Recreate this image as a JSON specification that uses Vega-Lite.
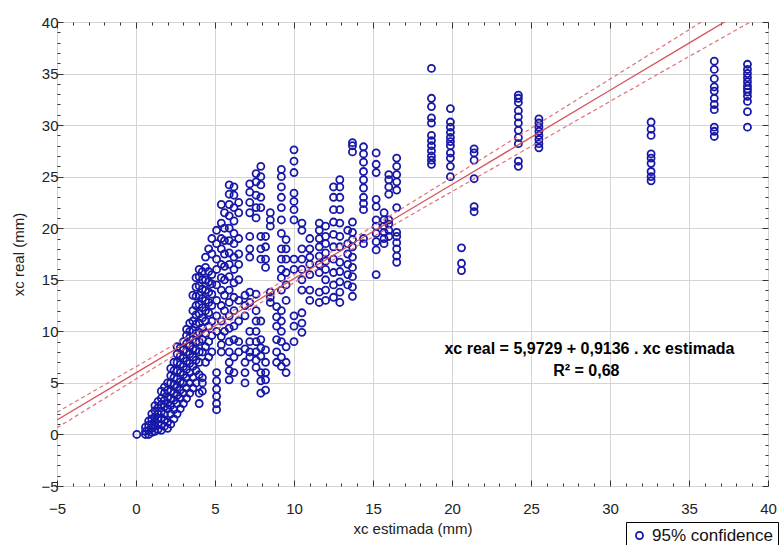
{
"$schema":"https://vega.github.io/schema/vega-lite/v6.json",
"width":711,"height":464,
"autosize":{"type":"none"},
"padding":{"left":57,"top":22,"right":15,"bottom":59},
"background":"white",
"config":{"view":{"stroke":"#000","strokeWidth":1},"font":"Liberation Sans",
"axis":{"labelFont":"Liberation Sans","labelFontSize":15,"labelColor":"#222","titleFont":"Liberation Sans","titleFontSize":15,"titleFontWeight":"normal","titleColor":"#222","domain":false,"tickColor":"#333","gridColor":"#d4d4d4"}},
"resolve":{"axis":{"x":"independent","y":"independent"}},
"datasets":{
"pts":[
{"x":0.05,"y":0},
{"x":0.6,"y":0},{"x":0.6,"y":0.3},{"x":0.6,"y":0.7},
{"x":0.8,"y":0},{"x":0.8,"y":0.4},{"x":0.8,"y":0.9},{"x":0.8,"y":1.3},
{"x":1.0,"y":0.2},{"x":1.0,"y":0.6},{"x":1.0,"y":1.0},{"x":1.0,"y":1.5},{"x":1.0,"y":2.0},
{"x":1.2,"y":0.3},{"x":1.2,"y":0.8},{"x":1.2,"y":1.2},{"x":1.2,"y":1.7},{"x":1.2,"y":2.3},{"x":1.2,"y":2.8},
{"x":1.4,"y":0.5},{"x":1.4,"y":1.0},{"x":1.4,"y":1.5},{"x":1.4,"y":2.0},{"x":1.4,"y":2.6},{"x":1.4,"y":3.2},
{"x":1.6,"y":0.4},{"x":1.6,"y":0.9},{"x":1.6,"y":1.6},{"x":1.6,"y":2.2},{"x":1.6,"y":2.9},{"x":1.6,"y":3.5},{"x":1.6,"y":4.2},
{"x":1.8,"y":0.8},{"x":1.8,"y":1.4},{"x":1.8,"y":2.0},{"x":1.8,"y":2.7},{"x":1.8,"y":3.3},{"x":1.8,"y":4.0},{"x":1.8,"y":4.6},
{"x":2.0,"y":0.6},{"x":2.0,"y":1.2},{"x":2.0,"y":2.5},{"x":2.0,"y":3.0},{"x":2.0,"y":3.6},{"x":2.0,"y":4.3},{"x":2.0,"y":5.0},
{"x":2.2,"y":1.0},{"x":2.2,"y":2.0},{"x":2.2,"y":2.8},{"x":2.2,"y":3.5},{"x":2.2,"y":4.2},{"x":2.2,"y":5.0},{"x":2.2,"y":5.7},{"x":2.2,"y":6.4},
{"x":2.4,"y":1.5},{"x":2.4,"y":2.4},{"x":2.4,"y":3.3},{"x":2.4,"y":4.0},{"x":2.4,"y":4.8},{"x":2.4,"y":5.5},{"x":2.4,"y":6.2},{"x":2.4,"y":7.0},
{"x":2.6,"y":2.0},{"x":2.6,"y":3.0},{"x":2.6,"y":3.8},{"x":2.6,"y":4.6},{"x":2.6,"y":5.4},{"x":2.6,"y":6.2},{"x":2.6,"y":7.0},{"x":2.6,"y":7.8},{"x":2.6,"y":8.5},
{"x":2.8,"y":2.5},{"x":2.8,"y":3.5},{"x":2.8,"y":4.3},{"x":2.8,"y":5.1},{"x":2.8,"y":6.0},{"x":2.8,"y":6.8},{"x":2.8,"y":7.6},{"x":2.8,"y":8.4},
{"x":3.0,"y":3.0},{"x":3.0,"y":4.0},{"x":3.0,"y":5.0},{"x":3.0,"y":5.8},{"x":3.0,"y":6.6},{"x":3.0,"y":7.4},{"x":3.0,"y":8.2},{"x":3.0,"y":9.0},
{"x":3.2,"y":3.5},{"x":3.2,"y":4.5},{"x":3.2,"y":5.5},{"x":3.2,"y":6.3},{"x":3.2,"y":7.1},{"x":3.2,"y":8.0},{"x":3.2,"y":8.8},{"x":3.2,"y":9.6},{"x":3.2,"y":10.2},
{"x":3.4,"y":4.0},{"x":3.4,"y":5.0},{"x":3.4,"y":6.0},{"x":3.4,"y":6.9},{"x":3.4,"y":7.8},{"x":3.4,"y":8.6},{"x":3.4,"y":9.4},{"x":3.4,"y":10.0},{"x":3.4,"y":10.8},
{"x":3.6,"y":4.5},{"x":3.6,"y":5.5},{"x":3.6,"y":6.6},{"x":3.6,"y":7.5},{"x":3.6,"y":8.3},{"x":3.6,"y":9.2},{"x":3.6,"y":10.1},{"x":3.6,"y":11.0},{"x":3.6,"y":12.0},{"x":3.6,"y":13.5},
{"x":3.8,"y":5.0},{"x":3.8,"y":6.2},{"x":3.8,"y":7.2},{"x":3.8,"y":8.2},{"x":3.8,"y":9.0},{"x":3.8,"y":9.8},{"x":3.8,"y":10.7},{"x":3.8,"y":11.6},{"x":3.8,"y":12.5},{"x":3.8,"y":13.4},{"x":3.8,"y":14.3},{"x":3.8,"y":15.2},
{"x":4.0,"y":3.0},{"x":4.0,"y":4.0},{"x":4.0,"y":5.8},{"x":4.0,"y":7.0},{"x":4.0,"y":8.0},{"x":4.0,"y":9.0},{"x":4.0,"y":9.9},{"x":4.0,"y":10.8},{"x":4.0,"y":11.7},{"x":4.0,"y":12.6},{"x":4.0,"y":13.5},{"x":4.0,"y":14.4},{"x":4.0,"y":15.3},{"x":4.0,"y":16.0},
{"x":4.2,"y":4.2},{"x":4.2,"y":5.0},{"x":4.2,"y":5.5},{"x":4.2,"y":8.0},{"x":4.2,"y":9.2},{"x":4.2,"y":10.3},{"x":4.2,"y":11.3},{"x":4.2,"y":12.3},{"x":4.2,"y":13.2},{"x":4.2,"y":14.1},{"x":4.2,"y":15.0},{"x":4.2,"y":15.8},
{"x":4.4,"y":7.0},{"x":4.4,"y":8.5},{"x":4.4,"y":9.8},{"x":4.4,"y":11.0},{"x":4.4,"y":12.0},{"x":4.4,"y":13.0},{"x":4.4,"y":14.0},{"x":4.4,"y":15.0},{"x":4.4,"y":16.2},{"x":4.4,"y":17.2},
{"x":4.6,"y":7.5},{"x":4.6,"y":9.0},{"x":4.6,"y":10.5},{"x":4.6,"y":11.8},{"x":4.6,"y":12.8},{"x":4.6,"y":13.8},{"x":4.6,"y":14.8},{"x":4.6,"y":15.8},{"x":4.6,"y":18.0},
{"x":4.8,"y":8.0},{"x":4.8,"y":9.6},{"x":4.8,"y":11.0},{"x":4.8,"y":12.5},{"x":4.8,"y":13.6},{"x":4.8,"y":14.6},{"x":4.8,"y":15.5},{"x":4.8,"y":17.5},{"x":4.8,"y":19.0},
{"x":5.1,"y":2.4},{"x":5.1,"y":3.0},{"x":5.1,"y":3.7},{"x":5.1,"y":4.4},{"x":5.1,"y":5.2},{"x":5.1,"y":6.0},{"x":5.1,"y":10.0},{"x":5.1,"y":11.5},{"x":5.1,"y":13.0},{"x":5.1,"y":14.5},{"x":5.1,"y":16.0},{"x":5.1,"y":17.0},{"x":5.1,"y":18.5},{"x":5.1,"y":19.8},
{"x":5.4,"y":8.0},{"x":5.4,"y":8.7},{"x":5.4,"y":9.5},{"x":5.4,"y":11.0},{"x":5.4,"y":12.5},{"x":5.4,"y":14.0},{"x":5.4,"y":15.2},{"x":5.4,"y":16.5},{"x":5.4,"y":18.0},{"x":5.4,"y":19.0},{"x":5.4,"y":20.5},{"x":5.4,"y":22.3},
{"x":5.6,"y":10.0},{"x":5.6,"y":12.0},{"x":5.6,"y":13.5},{"x":5.6,"y":15.0},{"x":5.6,"y":16.3},{"x":5.6,"y":17.5},{"x":5.6,"y":18.8},{"x":5.6,"y":20.0},{"x":5.6,"y":21.5},
{"x":5.9,"y":5.3},{"x":5.9,"y":6.2},{"x":5.9,"y":7.0},{"x":5.9,"y":8.0},{"x":5.9,"y":9.0},{"x":5.9,"y":10.3},{"x":5.9,"y":11.5},{"x":5.9,"y":12.8},{"x":5.9,"y":14.0},{"x":5.9,"y":15.3},{"x":5.9,"y":16.5},{"x":5.9,"y":17.6},{"x":5.9,"y":18.8},{"x":5.9,"y":20.0},{"x":5.9,"y":21.2},{"x":5.9,"y":22.3},{"x":5.9,"y":23.3},{"x":5.9,"y":24.2},
{"x":6.2,"y":6.0},{"x":6.2,"y":7.5},{"x":6.2,"y":9.2},{"x":6.2,"y":10.5},{"x":6.2,"y":12.0},{"x":6.2,"y":13.3},{"x":6.2,"y":14.7},{"x":6.2,"y":16.0},{"x":6.2,"y":17.2},{"x":6.2,"y":18.5},{"x":6.2,"y":19.5},{"x":6.2,"y":20.7},{"x":6.2,"y":22.0},{"x":6.2,"y":23.2},{"x":6.2,"y":24.0},
{"x":6.5,"y":8.0},{"x":6.5,"y":9.0},{"x":6.5,"y":11.0},{"x":6.5,"y":13.0},{"x":6.5,"y":15.0},{"x":6.5,"y":16.5},{"x":6.5,"y":17.5},{"x":6.5,"y":19.0},{"x":6.5,"y":21.5},{"x":6.5,"y":22.5},
{"x":6.9,"y":5.0},{"x":6.9,"y":6.0},{"x":6.9,"y":7.0},{"x":6.9,"y":8.3},{"x":6.9,"y":11.5},{"x":6.9,"y":12.5},{"x":6.9,"y":13.5},
{"x":7.2,"y":7.5},{"x":7.2,"y":8.0},{"x":7.2,"y":9.0},{"x":7.2,"y":10.0},{"x":7.2,"y":12.8},{"x":7.2,"y":13.8},{"x":7.2,"y":17.2},{"x":7.2,"y":18.0},{"x":7.2,"y":19.2},{"x":7.2,"y":21.5},{"x":7.2,"y":22.5},{"x":7.2,"y":23.5},{"x":7.2,"y":24.3},
{"x":7.6,"y":6.5},{"x":7.6,"y":7.2},{"x":7.6,"y":8.0},{"x":7.6,"y":9.0},{"x":7.6,"y":10.0},{"x":7.6,"y":11.0},{"x":7.6,"y":12.0},{"x":7.6,"y":13.6},{"x":7.6,"y":21.0},{"x":7.6,"y":22.0},{"x":7.6,"y":23.2},{"x":7.6,"y":24.5},{"x":7.6,"y":25.3},
{"x":7.9,"y":4.0},{"x":7.9,"y":5.2},{"x":7.9,"y":6.0},{"x":7.9,"y":7.6},{"x":7.9,"y":8.4},{"x":7.9,"y":9.2},{"x":7.9,"y":11.0},{"x":7.9,"y":17.0},{"x":7.9,"y":18.0},{"x":7.9,"y":19.2},{"x":7.9,"y":22.0},{"x":7.9,"y":23.0},{"x":7.9,"y":24.2},{"x":7.9,"y":25.0},{"x":7.9,"y":26.0},
{"x":8.2,"y":4.3},{"x":8.2,"y":5.3},{"x":8.2,"y":6.0},{"x":8.2,"y":7.0},{"x":8.2,"y":8.2},{"x":8.2,"y":16.2},{"x":8.2,"y":17.0},{"x":8.2,"y":18.2},{"x":8.2,"y":19.2},
{"x":8.5,"y":12.8},{"x":8.5,"y":13.3},{"x":8.5,"y":13.8},{"x":8.5,"y":20.2},{"x":8.5,"y":20.8},{"x":8.5,"y":21.5},
{"x":8.9,"y":7.0},{"x":8.9,"y":8.0},{"x":8.9,"y":9.2},{"x":8.9,"y":10.5},{"x":8.9,"y":11.4},{"x":8.9,"y":12.4},
{"x":9.2,"y":6.6},{"x":9.2,"y":7.5},{"x":9.2,"y":9.0},{"x":9.2,"y":10.0},{"x":9.2,"y":11.0},{"x":9.2,"y":12.0},{"x":9.2,"y":14.0},{"x":9.2,"y":15.2},{"x":9.2,"y":16.0},{"x":9.2,"y":17.0},{"x":9.2,"y":18.0},{"x":9.2,"y":19.5},{"x":9.2,"y":20.8},{"x":9.2,"y":22.0},{"x":9.2,"y":23.0},{"x":9.2,"y":24.0},{"x":9.2,"y":25.0},{"x":9.2,"y":25.7},
{"x":9.5,"y":6.0},{"x":9.5,"y":7.0},{"x":9.5,"y":8.5},{"x":9.5,"y":13.0},{"x":9.5,"y":14.5},{"x":9.5,"y":15.7},{"x":9.5,"y":17.0},{"x":9.5,"y":18.0},{"x":9.5,"y":18.9},
{"x":10.0,"y":9.0},{"x":10.0,"y":10.5},{"x":10.0,"y":11.5},{"x":10.0,"y":16.0},{"x":10.0,"y":17.0},{"x":10.0,"y":20.8},{"x":10.0,"y":21.8},{"x":10.0,"y":22.6},{"x":10.0,"y":23.4},{"x":10.0,"y":25.4},{"x":10.0,"y":26.5},{"x":10.0,"y":27.6},
{"x":10.5,"y":9.9},{"x":10.5,"y":10.8},{"x":10.5,"y":11.8},{"x":10.5,"y":14.0},{"x":10.5,"y":15.0},{"x":10.5,"y":16.0},{"x":10.5,"y":17.0},{"x":10.5,"y":18.0},{"x":10.5,"y":19.8},{"x":10.5,"y":20.5},
{"x":11.0,"y":13.0},{"x":11.0,"y":14.0},{"x":11.0,"y":15.5},{"x":11.0,"y":16.5},{"x":11.0,"y":17.2},{"x":11.0,"y":18.0},{"x":11.0,"y":19.0},
{"x":11.6,"y":12.8},{"x":11.6,"y":13.8},{"x":11.6,"y":15.7},{"x":11.6,"y":16.5},{"x":11.6,"y":17.3},{"x":11.6,"y":18.2},{"x":11.6,"y":19.0},{"x":11.6,"y":19.8},{"x":11.6,"y":20.5},
{"x":12.0,"y":13.0},{"x":12.0,"y":14.0},{"x":12.0,"y":15.0},{"x":12.0,"y":16.0},{"x":12.0,"y":16.8},{"x":12.0,"y":17.6},{"x":12.0,"y":18.5},{"x":12.0,"y":19.2},{"x":12.0,"y":20.2},
{"x":12.5,"y":13.3},{"x":12.5,"y":14.5},{"x":12.5,"y":15.7},{"x":12.5,"y":17.0},{"x":12.5,"y":18.2},{"x":12.5,"y":19.4},{"x":12.5,"y":20.6},{"x":12.5,"y":21.8},{"x":12.5,"y":23.0},{"x":12.5,"y":24.0},
{"x":12.9,"y":12.8},{"x":12.9,"y":13.8},{"x":12.9,"y":14.8},{"x":12.9,"y":15.8},{"x":12.9,"y":16.7},{"x":12.9,"y":18.2},{"x":12.9,"y":19.2},{"x":12.9,"y":20.5},{"x":12.9,"y":21.8},{"x":12.9,"y":23.0},{"x":12.9,"y":24.0},{"x":12.9,"y":24.7},
{"x":13.4,"y":14.5},{"x":13.4,"y":15.5},{"x":13.4,"y":16.5},{"x":13.4,"y":17.5},{"x":13.4,"y":18.5},{"x":13.4,"y":19.8},
{"x":13.7,"y":13.4},{"x":13.7,"y":14.3},{"x":13.7,"y":15.3},{"x":13.7,"y":16.2},{"x":13.7,"y":17.2},{"x":13.7,"y":18.2},{"x":13.7,"y":18.9},{"x":13.7,"y":19.6},{"x":13.7,"y":20.6},{"x":13.7,"y":27.4},{"x":13.7,"y":28.0},{"x":13.7,"y":28.3},
{"x":14.4,"y":18.5},{"x":14.4,"y":19.0},{"x":14.4,"y":21.8},{"x":14.4,"y":22.4},{"x":14.4,"y":23.0},{"x":14.4,"y":23.9},{"x":14.4,"y":24.7},{"x":14.4,"y":25.5},{"x":14.4,"y":26.4},{"x":14.4,"y":27.2},{"x":14.4,"y":27.9},
{"x":15.2,"y":15.5},{"x":15.2,"y":17.9},{"x":15.2,"y":18.7},{"x":15.2,"y":19.5},{"x":15.2,"y":20.2},{"x":15.2,"y":20.8},{"x":15.2,"y":22.1},{"x":15.2,"y":22.8},{"x":15.2,"y":25.4},{"x":15.2,"y":26.2},{"x":15.2,"y":27.3},
{"x":15.7,"y":18.5},{"x":15.7,"y":19.0},{"x":15.7,"y":19.6},{"x":15.7,"y":20.2},{"x":15.7,"y":20.8},{"x":15.7,"y":21.5},
{"x":16.0,"y":19.2},{"x":16.0,"y":19.8},{"x":16.0,"y":20.4},{"x":16.0,"y":20.8},{"x":16.0,"y":23.3},{"x":16.0,"y":24.0},{"x":16.0,"y":24.7},{"x":16.0,"y":25.2},
{"x":16.5,"y":16.7},{"x":16.5,"y":17.3},{"x":16.5,"y":18.0},{"x":16.5,"y":18.6},{"x":16.5,"y":19.2},{"x":16.5,"y":19.6},{"x":16.5,"y":22.0},{"x":16.5,"y":23.7},{"x":16.5,"y":24.5},{"x":16.5,"y":25.2},{"x":16.5,"y":26.0},{"x":16.5,"y":26.8},
{"x":18.7,"y":26.2},{"x":18.7,"y":26.6},{"x":18.7,"y":27.0},{"x":18.7,"y":27.5},{"x":18.7,"y":28.0},{"x":18.7,"y":28.5},{"x":18.7,"y":29.0},{"x":18.7,"y":30.2},{"x":18.7,"y":30.7},{"x":18.7,"y":31.8},{"x":18.7,"y":32.6},{"x":18.7,"y":35.5},
{"x":19.9,"y":25.0},{"x":19.9,"y":26.0},{"x":19.9,"y":26.8},{"x":19.9,"y":27.3},{"x":19.9,"y":28.0},{"x":19.9,"y":28.4},{"x":19.9,"y":28.8},{"x":19.9,"y":29.3},{"x":19.9,"y":29.8},{"x":19.9,"y":30.3},{"x":19.9,"y":31.6},
{"x":20.6,"y":15.9},{"x":20.6,"y":16.6},{"x":20.6,"y":18.1},
{"x":21.4,"y":21.6},{"x":21.4,"y":22.1},{"x":21.4,"y":24.8},{"x":21.4,"y":26.6},{"x":21.4,"y":27.3},{"x":21.4,"y":27.7},
{"x":24.2,"y":26.0},{"x":24.2,"y":26.5},{"x":24.2,"y":28.2},{"x":24.2,"y":28.8},{"x":24.2,"y":29.5},{"x":24.2,"y":30.2},{"x":24.2,"y":30.8},{"x":24.2,"y":31.4},{"x":24.2,"y":32.2},{"x":24.2,"y":32.6},{"x":24.2,"y":32.9},
{"x":25.5,"y":27.8},{"x":25.5,"y":28.2},{"x":25.5,"y":28.6},{"x":25.5,"y":29.0},{"x":25.5,"y":29.4},{"x":25.5,"y":29.8},{"x":25.5,"y":30.2},{"x":25.5,"y":30.6},
{"x":32.6,"y":24.6},{"x":32.6,"y":25.0},{"x":32.6,"y":25.5},{"x":32.6,"y":26.3},{"x":32.6,"y":26.8},{"x":32.6,"y":27.2},{"x":32.6,"y":29.0},{"x":32.6,"y":29.6},{"x":32.6,"y":30.3},
{"x":36.6,"y":28.9},{"x":36.6,"y":29.4},{"x":36.6,"y":29.8},{"x":36.6,"y":31.5},{"x":36.6,"y":32.0},{"x":36.6,"y":32.6},{"x":36.6,"y":33.3},{"x":36.6,"y":33.7},{"x":36.6,"y":34.5},{"x":36.6,"y":35.4},{"x":36.6,"y":36.2},
{"x":38.7,"y":29.8},{"x":38.7,"y":31.3},{"x":38.7,"y":32.3},{"x":38.7,"y":32.8},{"x":38.7,"y":33.2},{"x":38.7,"y":33.5},{"x":38.7,"y":33.8},{"x":38.7,"y":34.2},{"x":38.7,"y":34.6},{"x":38.7,"y":35.0},{"x":38.7,"y":35.4},{"x":38.7,"y":35.9}
],
"fit":[
{"x":-5,"fit":1.405,"lo":0.65,"hi":2.16},
{"x":0,"fit":5.973,"lo":5.37,"hi":6.57},
{"x":5,"fit":10.541,"lo":10.11,"hi":10.97},
{"x":10,"fit":15.109,"lo":14.72,"hi":15.5},
{"x":15,"fit":19.677,"lo":19.17,"hi":20.18},
{"x":20,"fit":24.245,"lo":23.56,"hi":24.93},
{"x":25,"fit":28.813,"lo":27.93,"hi":29.69},
{"x":30,"fit":33.381,"lo":32.3,"hi":34.46},
{"x":35,"fit":37.949,"lo":36.65,"hi":39.25},
{"x":40,"fit":42.517,"lo":40.97,"hi":44.06}
]
},
"layer":[
{"data":{"name":"pts"},
 "mark":{"type":"point","shape":"circle","filled":false,"size":50,"strokeWidth":1.8,"opacity":1,"clip":true},
 "encoding":{
  "x":{"field":"x","type":"quantitative","scale":{"domain":[-5,40],"nice":false,"zero":false},
   "axis":{"title":"xc estimada (mm)","values":[-5,-4,-3,-2,-1,0,1,2,3,4,5,6,7,8,9,10,11,12,13,14,15,16,17,18,19,20,21,22,23,24,25,26,27,28,29,30,31,32,33,34,35,36,37,38,39,40],
    "tickCount":46,
    "labelExpr":"datum.value % 5 === 0 ? datum.label : ''",
    "tickSize":{"condition":{"test":"datum.value % 5 === 0","value":-6},"value":-3},
    "gridOpacity":{"condition":{"test":"datum.value % 5 === 0","value":1},"value":0},
    "labelPadding":21,"titlePadding":2,"labelFlush":false,"labelOverlap":false}},
  "y":{"field":"y","type":"quantitative","scale":{"domain":[-5,40],"nice":false,"zero":false},
   "axis":{"title":"xc real (mm)","values":[-5,-4,-3,-2,-1,0,1,2,3,4,5,6,7,8,9,10,11,12,13,14,15,16,17,18,19,20,21,22,23,24,25,26,27,28,29,30,31,32,33,34,35,36,37,38,39,40],
    "tickCount":46,
    "labelExpr":"datum.value % 5 === 0 ? datum.label : ''",
    "tickSize":{"condition":{"test":"datum.value % 5 === 0","value":-6},"value":-3},
    "gridOpacity":{"condition":{"test":"datum.value % 5 === 0","value":1},"value":0},
    "labelPadding":5,"titlePadding":14,"labelFlush":false,"labelOverlap":false}},
  "color":{"datum":"95% confidence","type":"nominal","scale":{"range":["#1818a8"]},
   "legend":{"orient":"none","legendX":569,"legendY":500,"title":null,"strokeColor":"#000","fillColor":"white","padding":5,"labelFontSize":17,"labelFont":"Liberation Sans","labelColor":"#111","labelLimit":300,"symbolType":"circle","symbolSize":50,"symbolStrokeWidth":1.8,"symbolStrokeColor":"#6a2a9a","symbolOpacity":1}}
 }},
{"data":{"name":"fit"},"mark":{"type":"line","color":"#d8545c","strokeWidth":1.3,"clip":true},
 "encoding":{"x":{"field":"x","type":"quantitative",
   "axis":{"orient":"top","title":null,"labels":false,"grid":false,"values":[-5,-4,-3,-2,-1,0,1,2,3,4,5,6,7,8,9,10,11,12,13,14,15,16,17,18,19,20,21,22,23,24,25,26,27,28,29,30,31,32,33,34,35,36,37,38,39,40],"tickCount":46,
    "tickSize":{"condition":{"test":"datum.value % 5 === 0","value":-6},"value":-3}}},
  "y":{"field":"fit","type":"quantitative",
   "axis":{"orient":"right","title":null,"labels":false,"grid":false,"values":[-5,-4,-3,-2,-1,0,1,2,3,4,5,6,7,8,9,10,11,12,13,14,15,16,17,18,19,20,21,22,23,24,25,26,27,28,29,30,31,32,33,34,35,36,37,38,39,40],"tickCount":46,
    "tickSize":{"condition":{"test":"datum.value % 5 === 0","value":-6},"value":-3}}}}},
{"data":{"name":"fit"},"mark":{"type":"line","color":"#e07078","strokeWidth":1.2,"strokeDash":[4,3],"clip":true},
 "encoding":{"x":{"field":"x","type":"quantitative","axis":null},"y":{"field":"lo","type":"quantitative","axis":null}}},
{"data":{"name":"fit"},"mark":{"type":"line","color":"#e07078","strokeWidth":1.2,"strokeDash":[4,3],"clip":true},
 "encoding":{"x":{"field":"x","type":"quantitative","axis":null},"y":{"field":"hi","type":"quantitative","axis":null}}},
{"data":{"values":[{"label":"xc real = 5,9729 + 0,9136 . xc estimada","px":28.7,"py":8.3},{"label":"R² = 0,68","px":28.5,"py":6.2}]},
 "mark":{"type":"text","font":"Liberation Sans","fontSize":16,"fontWeight":"bold","color":"#000"},
 "encoding":{"x":{"field":"px","type":"quantitative","axis":null},"y":{"field":"py","type":"quantitative","axis":null},"text":{"field":"label"}}}
]
}
